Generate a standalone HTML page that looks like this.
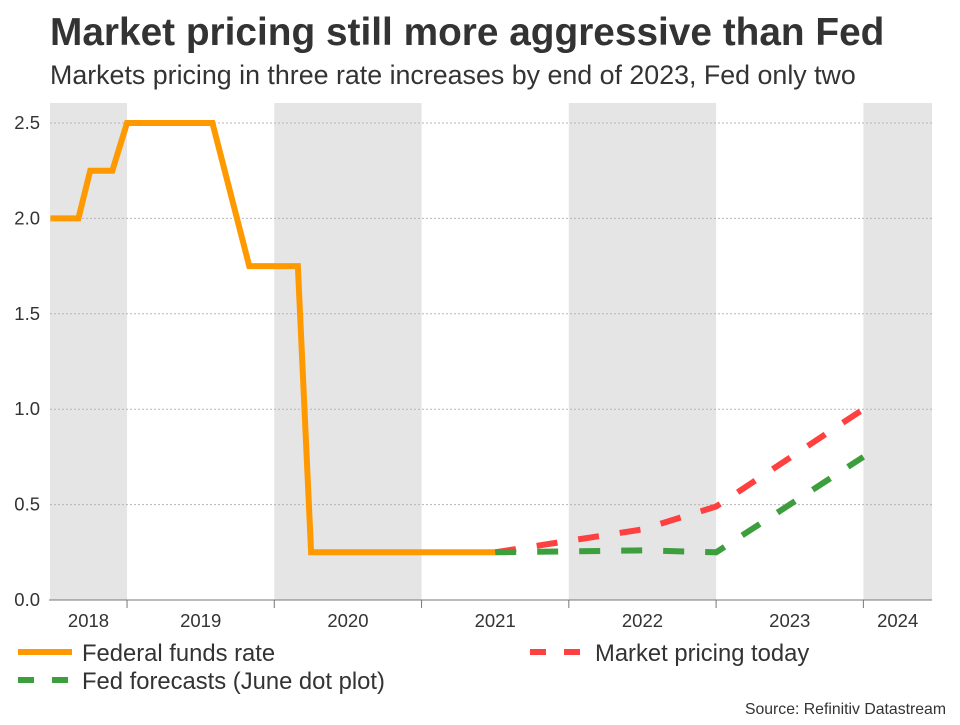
<!DOCTYPE html>
<html><head><meta charset="utf-8"><style>
body{margin:0;background:#fff;font-family:"Liberation Sans",Arial,sans-serif;}
svg text{font-family:"Liberation Sans",Arial,sans-serif;}
</style></head><body>
<svg id="chart" width="960" height="720">
<text x="50" y="45" font-size="38.8" font-weight="bold" fill="#333">Market pricing still more aggressive than Fed</text>
<text x="50" y="84" font-size="26.8" fill="#333">Markets pricing in three rate increases by end of 2023, Fed only two</text>
<g id="bands"></g>
<g id="grid"></g>
<g id="yaxis"></g>
<g id="xaxis"></g>
<g id="series"></g>
<g>
<g><line x1="18" y1="652" x2="72" y2="652" stroke="#ff9900" stroke-width="6"/><text x="82" y="661" font-size="23.8" fill="#333">Federal funds rate</text></g>
<g><line x1="530" y1="652" x2="584" y2="652" stroke="#ff4040" stroke-width="6" stroke-dasharray="16,18"/><text x="595" y="661" font-size="23.8" fill="#333">Market pricing today</text></g>
<g><line x1="18" y1="680" x2="72" y2="680" stroke="#3d9e3d" stroke-width="6" stroke-dasharray="16,18"/><text x="82" y="689" font-size="23.8" fill="#333">Fed forecasts (June dot plot)</text></g>
</g>
<text x="946" y="714" font-size="15.8" fill="#333" text-anchor="end">Source: Refinitiv Datastream</text>
</svg>
<script>
const years=[2018,2019,2020,2021,2022,2023,2024];
const yTicks=[0,0.5,1.0,1.5,2.0,2.5];
const fedT=[2018.48,2018.67,2018.75,2018.90,2019.0,2019.58,2019.83,2020.16,2020.25,2021.5];
const fedV=[2.0,2.0,2.25,2.25,2.5,2.5,1.75,1.75,0.25,0.25];
const mktT=[2021.5,2022.0,2022.5,2023.0,2023.5,2024.0];
const mktV=[0.25,0.31,0.37,0.49,0.745,1.0];
const fcT=[2021.5,2022.0,2022.5,2023.0,2024.0];
const fcV=[0.25,0.255,0.26,0.25,0.75];
const X0=50,X1=932,Y0=600,Y1=103;
const T0=2018.477,T1=2024.466;
const x=t=>X0+(t-T0)/(T1-T0)*(X1-X0);
const y=v=>Y0-v*190.8;
const NS='http://www.w3.org/2000/svg';
function mk(tag,attrs,parent){const e=document.createElementNS(NS,tag);for(const k in attrs)e.setAttribute(k,attrs[k]);parent.appendChild(e);return e;}
const bands=document.getElementById('bands');
years.forEach((yr,i)=>{
 if(i%2===0){const a=Math.max(x(yr),X0),b=Math.min(x(yr+1),X1);
  const r=mk('rect',{x:a,y:Y1,width:b-a,height:Y0-Y1,fill:'#e5e5e5'},bands);
  
  }
});
const grid=document.getElementById('grid'),ya=document.getElementById('yaxis');
yTicks.forEach(v=>{
 if(v>0){const l=mk('line',{x1:X0,x2:X1,y1:y(v),y2:y(v),stroke:'#b5b5b5','stroke-dasharray':'2,2','stroke-width':1},grid);
  
  }
 const t=mk('text',{x:40,y:y(v)+6,'font-size':18.5,fill:'#333','text-anchor':'end'},ya);
 t.textContent=v.toFixed(1);
 
 
});
const xa=document.getElementById('xaxis');
mk('line',{x1:X0-1,x2:X1,y1:Y0,y2:Y0,stroke:'#777','stroke-width':1},xa);
years.forEach(yr=>{
 if(yr>2018){const tk=mk('line',{x1:x(yr),x2:x(yr),y1:Y0,y2:Y0+8,stroke:'#777'},xa);
  
  }
 const a=Math.max(x(yr),X0),b=Math.min(x(yr+1),X1);
 const t=mk('text',{x:(a+b)/2,y:627,'font-size':18.5,fill:'#333','text-anchor':'middle'},xa);
 t.textContent=yr;
 
 
});
const s=document.getElementById('series');
const pts=(T,V)=>T.map((t,i)=>x(t)+','+y(V[i])).join(' ');
const p1=mk('polyline',{points:pts(fedT,fedV),fill:'none',stroke:'#ff9900','stroke-width':6,'stroke-linejoin':'miter'},s);


const p2=mk('polyline',{points:pts(mktT,mktV),fill:'none',stroke:'#ff4040','stroke-width':6,'stroke-dasharray':'21,21'},s);


const p3=mk('polyline',{points:pts(fcT,fcV),fill:'none',stroke:'#3d9e3d','stroke-width':6,'stroke-dasharray':'21,21'},s);


</script>
</body></html>
